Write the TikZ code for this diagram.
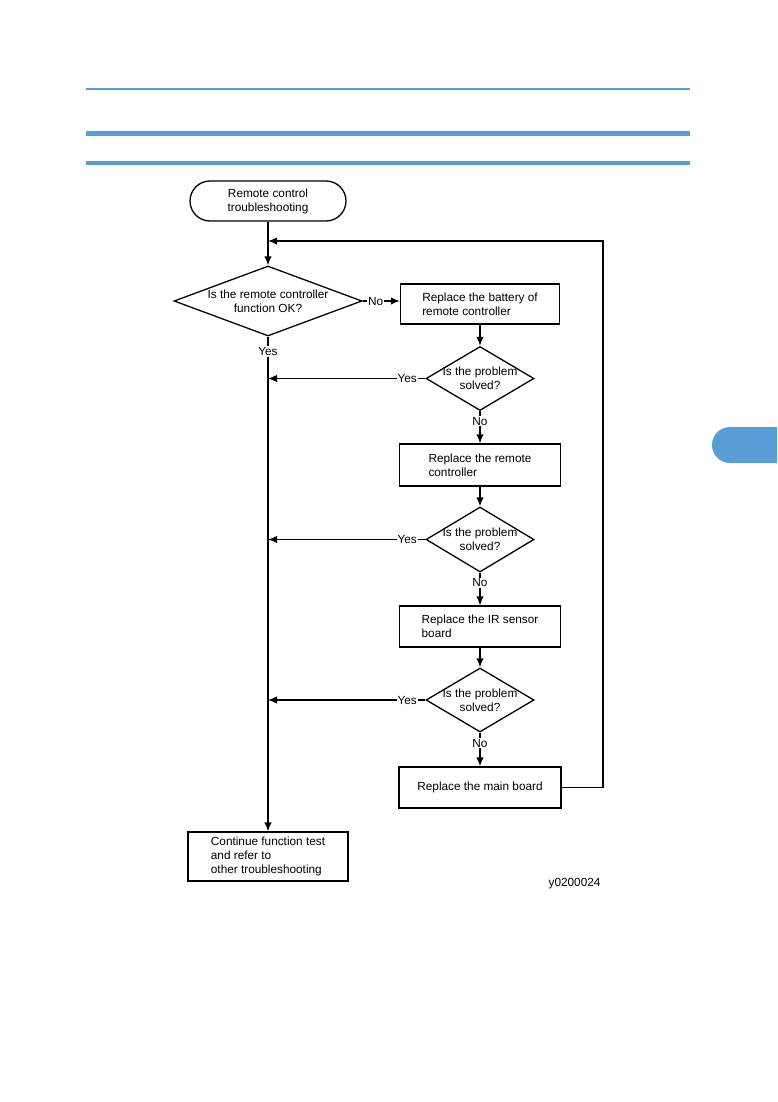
\documentclass[tikz,border=0pt]{standalone}
\usepackage{fontspec}
\setmainfont{Liberation Sans}
\usetikzlibrary{shapes.geometric,shapes.misc,arrows.meta}
\definecolor{hdrblue}{RGB}{88,157,213}
\tikzset{
  flow/.style={line width=1.3pt},
  arr/.style={flow,-{Latex[length=9,width=7.5]}},
  txt/.style={font=\fontsize{11.8}{14}\selectfont},
  procbox/.style={txt,draw,flow,rectangle,align=left,inner sep=2pt},
  decision/.style={draw,flow,diamond,inner sep=0pt},
  terminal/.style={txt,draw,flow,rounded rectangle,align=center,inner sep=2pt},
  lbl/.style={txt,fill=white,inner sep=1pt},
  hdr/.style={hdrblue},
}
\begin{document}
\begin{tikzpicture}[x=1pt,y=-1pt]
\fill[white] (0,0) rectangle (777,1102);
\useasboundingbox (0,0) rectangle (777,1102);
% header rules
\draw[hdr,line width=2.3pt] (86,89) -- (690,89);
\draw[hdr,line width=5pt] (86,134) -- (690,134);
\draw[hdr,line width=4pt] (86,163) -- (690,163);
% side tab
\fill[hdrblue] (777,427) -- (730,427) arc[start angle=270,end angle=90,radius=18] -- (777,463) -- cycle;

% nodes
\node[terminal,minimum width=160,minimum height=40] (s) at (268,201) {Remote control\\troubleshooting};
\node[decision,minimum width=188,minimum height=70] (d1) at (268,301) {};
\node[txt,align=center] (d1t) at (d1.center) {Is the remote controller\\function OK?};
\node[procbox,minimum width=159,minimum height=40] (b1) at (480,304) {Replace the battery of\\remote controller};
\node[decision,minimum width=108,minimum height=64] (d2) at (480,378.5) {};
\node[txt,align=center] (d2t) at (d2.center) {Is the problem\\solved?};
\node[procbox,minimum width=161,minimum height=42] (b2) at (480,465) {Replace the remote\\controller};
\node[decision,minimum width=108,minimum height=65] (d3) at (480,539.5) {};
\node[txt,align=center] (d3t) at (d3.center) {Is the problem\\solved?};
\node[procbox,minimum width=161,minimum height=41] (b3) at (480,626.5) {Replace the IR sensor\\board};
\node[decision,minimum width=108,minimum height=64] (d4) at (480,700) {};
\node[txt,align=center] (d4t) at (d4.center) {Is the problem\\solved?};
\node[procbox,minimum width=162,minimum height=41] (b4) at (480,787.5) {Replace the main board};
\node[procbox,minimum width=160,minimum height=49] (e) at (268,856.5) {Continue function test\\and refer to\\other troubleshooting};
\node[txt,anchor=east] (fig) at (604,884) {y0200024};

\coordinate (loopc) at (603,241);
\coordinate (join) at (268,241);

% connectors
\draw[arr] (s.south) -- (d1.north);
\draw[arr] (d1.east) -- node[lbl,pos=0.35]{No} (d1.east -| b1.west);
\draw[arr] (d1.south) -- node[lbl,pos=0.03]{Yes} (e.north);
\draw[arr] (b1.south) -- (d2.north);
\draw[arr] (d2.west) -- node[lbl,pos=0.115]{Yes} (d2.west -| join);
\draw[arr] (d2.south) -- node[lbl,pos=0.31]{No} (b2.north);
\draw[arr] (b2.south) -- (d3.north);
\draw[arr] (d3.west) -- node[lbl,pos=0.115]{Yes} (d3.west -| join);
\draw[arr] (d3.south) -- node[lbl,pos=0.31]{No} (b3.north);
\draw[arr] (b3.south) -- (d4.north);
\draw[arr] (d4.west) -- node[lbl,pos=0.115]{Yes} (d4.west -| join);
\draw[arr] (d4.south) -- node[lbl,pos=0.31]{No} (b4.north);
\draw[arr] (b4.east) -| (loopc) -- (join);
\end{tikzpicture}
\end{document}
